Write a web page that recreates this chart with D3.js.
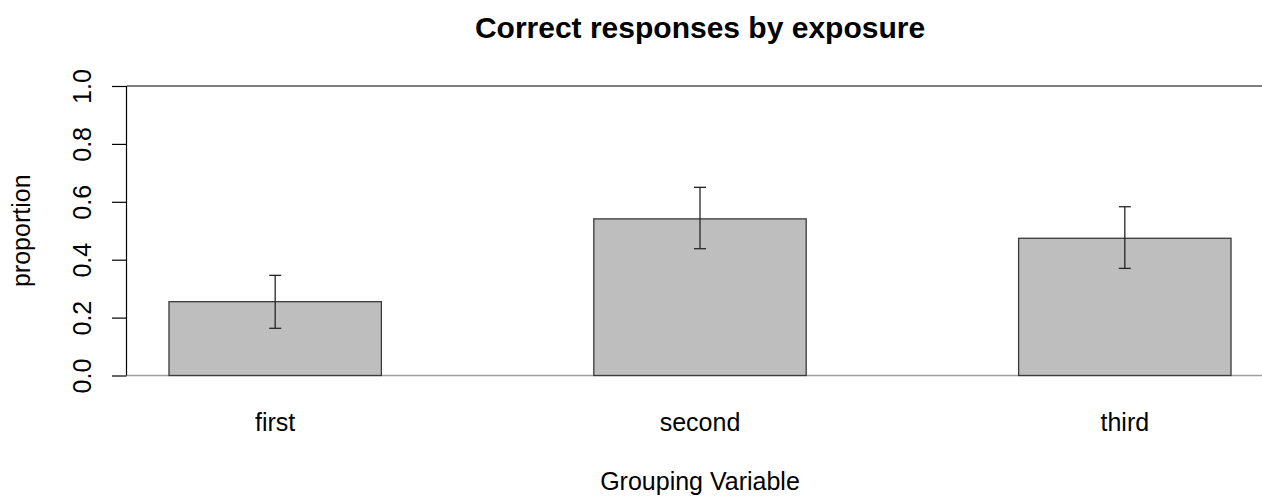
<!DOCTYPE html>
<html>
<head>
<meta charset="utf-8">
<script src="https://cdn.jsdelivr.net/npm/d3@7/dist/d3.min.js"></script>
<style>
  html, body { margin: 0; padding: 0; background: #fff; }
  svg { display: block; }
  text { font-family: "Liberation Sans", Arial, Helvetica, sans-serif; fill: #000; }
</style>
</head>
<body>
<script>
// Proportion of correct responses per exposure, with interval bounds
const categories = ["first", "second", "third"];
const proportions = [0.255, 0.541, 0.474];
const lowerBounds = [0.163, 0.438, 0.370];
const upperBounds = [0.346, 0.650, 0.583];
const yTicks = [0.0, 0.2, 0.4, 0.6, 0.8, 1.0];

const W = 1262, H = 499;
const plot = { left: 126.5, right: 1273.5, top: 86, bottom: 375.5 };

const svg = d3.select("body").append("svg")
  .attr("width", W).attr("height", H);

const x = d3.scaleBand()
  .domain(categories)
  .range([plot.left, plot.right])
  .paddingInner(0.5)
  .paddingOuter(0.1);

const y = d3.scaleLinear().domain([0, 1]).range([plot.bottom, plot.top]);

const rows = categories.map((c, i) => ({
  cat: c, p: proportions[i], lo: lowerBounds[i], hi: upperBounds[i]
}));

// baseline at zero
svg.append("line")
  .attr("x1", plot.left).attr("x2", W)
  .attr("y1", y(0)).attr("y2", y(0))
  .attr("stroke", "#a0a0a0").attr("stroke-width", 1.5);

// top frame line
svg.append("line")
  .attr("x1", plot.left).attr("x2", W)
  .attr("y1", y(1)).attr("y2", y(1))
  .attr("stroke", "#000").attr("stroke-width", 1.2);

// bars
svg.append("g").selectAll("rect").data(rows).join("rect")
  .attr("x", d => x(d.cat))
  .attr("width", x.bandwidth())
  .attr("y", d => y(d.p))
  .attr("height", d => y(0) - y(d.p))
  .attr("fill", "#bebebe")
  .attr("stroke", "#3a3a3a")
  .attr("stroke-width", 1.3);

// error bars
const eb = svg.append("g").attr("stroke", "#262626").attr("stroke-width", 1.3);
const cx = d => x(d.cat) + x.bandwidth() / 2;
eb.selectAll("line.v").data(rows).join("line").attr("class", "v")
  .attr("x1", cx).attr("x2", cx)
  .attr("y1", d => y(d.lo)).attr("y2", d => y(d.hi));
eb.selectAll("line.t").data(rows).join("line").attr("class", "t")
  .attr("x1", d => cx(d) - 6).attr("x2", d => cx(d) + 6)
  .attr("y1", d => y(d.hi)).attr("y2", d => y(d.hi));
eb.selectAll("line.b").data(rows).join("line").attr("class", "b")
  .attr("x1", d => cx(d) - 6).attr("x2", d => cx(d) + 6)
  .attr("y1", d => y(d.lo)).attr("y2", d => y(d.lo));

// y axis
const yAxis = d3.axisLeft(y).tickValues(yTicks).tickFormat(d3.format(".1f"))
  .tickSize(14.5).tickPadding(0);
const gy = svg.append("g").attr("transform", `translate(${plot.left},0)`).call(yAxis);
gy.select(".domain").attr("d", `M0,${y(0)}V${y(1)}`).attr("stroke", "#000").attr("stroke-width", 1.2);
gy.selectAll(".tick line").attr("stroke", "#000").attr("stroke-width", 1.2);
gy.selectAll(".tick text")
  .attr("x", null).attr("dy", null)
  .attr("transform", "translate(-36,0) rotate(-90)")
  .attr("text-anchor", "middle")
  .attr("font-size", 25)
  .attr("font-family", "Liberation Sans, Arial, sans-serif")
  .attr("fill", "#000");

// category labels
svg.append("g").selectAll("text").data(categories).join("text")
  .attr("x", d => x(d) + x.bandwidth() / 2)
  .attr("y", 431)
  .attr("text-anchor", "middle")
  .attr("font-size", 25)
  .text(d => d);

// titles
svg.append("text")
  .attr("x", (plot.left + plot.right) / 2).attr("y", 490)
  .attr("text-anchor", "middle").attr("font-size", 25)
  .text("Grouping Variable");

svg.append("text")
  .attr("transform", `translate(30,${(plot.top + plot.bottom) / 2}) rotate(-90)`)
  .attr("text-anchor", "middle").attr("font-size", 25)
  .text("proportion");

svg.append("text")
  .attr("x", (plot.left + plot.right) / 2).attr("y", 38)
  .attr("text-anchor", "middle").attr("font-size", 30).attr("font-weight", "bold")
  .text("Correct responses by exposure");
</script>
</body>
</html>
